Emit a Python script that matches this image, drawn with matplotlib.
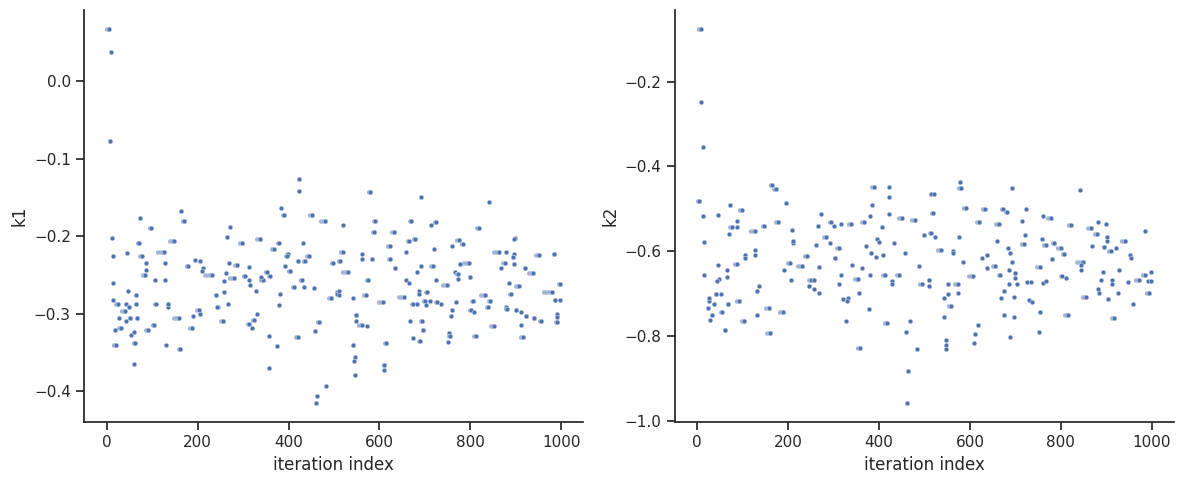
import numpy as np
import pandas as pd
import seaborn as sns
import matplotlib.pyplot as plt

# k1 chain: last iteration of each run, value, run length
k1_end = [5, 8, 9, 12, 13, 14, 15, 20, 18, 24, 27, 31, 40, 42, 43, 45, 46, 49, 53, 52,
          60, 62, 59, 64, 65, 67, 70, 73, 77, 86, 87, 85, 91, 98, 106, 103, 108, 126, 128, 129,
          131, 134, 135, 147, 158, 163, 171, 162, 178, 188, 190, 194, 204, 205, 206, 212, 210, 231, 240, 244,
          423, 423, 383, 390, 452, 481, 271, 264, 298, 338, 378, 367, 431, 398, 396, 444, 421, 436, 497, 512,
          269, 287, 314, 392, 404, 262, 280, 304, 312, 344, 353, 359, 340, 429, 258, 316, 413, 434, 457, 328,
          381, 258, 241, 507, 507, 494, 379, 267, 242, 330, 325, 256, 468, 312, 320, 459, 356, 420, 375, 358,
          483, 463, 460,
          580, 691, 520, 591, 670, 724, 713, 589, 633, 664, 679, 774, 623, 759, 719, 658, 519, 561, 561, 583,
          624, 513, 635, 691, 717, 682, 530, 766, 773, 773, 777, 574, 658, 664, 724, 749, 511, 510, 571, 541,
          655, 686, 687, 705, 607, 673, 683, 700, 702, 711, 727, 735, 768, 759, 757, 549, 549, 561, 572, 667,
          694, 696, 754, 755, 673, 689, 750, 615, 542, 546, 545, 611, 610, 547,
          840, 818, 776, 783, 898, 897, 862, 879, 896, 894, 950, 985, 796, 778, 877, 895, 867, 921, 937, 800,
          886, 906, 998, 889, 833, 980, 844, 806, 987, 998, 839, 879, 880, 801, 809, 901, 911, 923, 941, 956,
          990, 990, 991, 851, 911, 812, 916]
k1_val = [0.068, -0.0765, 0.038, -0.2017, -0.283, -0.225, -0.26, -0.341, -0.3217, -0.287, -0.306, -0.319, -0.297, -0.288, -0.31, -0.222, -0.271, -0.292, -0.328, -0.306,
          -0.324, -0.338, -0.3655, -0.2765, -0.287, -0.306, -0.2094, -0.176, -0.226, -0.234, -0.244, -0.2495, -0.3217, -0.189, -0.256, -0.315, -0.288, -0.2198, -0.234, -0.256,
          -0.34, -0.291, -0.288, -0.2056, -0.306, -0.167, -0.18, -0.346, -0.239, -0.318, -0.3035, -0.231, -0.296, -0.301, -0.2326, -0.2416, -0.245, -0.2495, -0.2765, -0.292,
          -0.1256, -0.141, -0.164, -0.172, -0.172, -0.18, -0.1875, -0.2004, -0.2094, -0.203, -0.2094, -0.217, -0.2094, -0.2236, -0.226, -0.226, -0.2314, -0.2326, -0.234, -0.2326,
          -0.2352, -0.2378, -0.2404, -0.239, -0.2455, -0.248, -0.2545, -0.252, -0.256, -0.257, -0.2468, -0.252, -0.253, -0.257, -0.2584, -0.2636, -0.265, -0.266, -0.2675, -0.2714,
          -0.2752, -0.2727, -0.2765, -0.272, -0.2752, -0.2804, -0.2894, -0.288, -0.292, -0.301, -0.3088, -0.31, -0.3114, -0.3139, -0.318, -0.323, -0.329, -0.3307, -0.342, -0.3707,
          -0.394, -0.4068, -0.416,
          -0.1423, -0.1488, -0.186, -0.18, -0.18, -0.181, -0.186, -0.194, -0.194, -0.2056, -0.2036, -0.2046, -0.212, -0.212, -0.2159, -0.2198, -0.221, -0.2224, -0.23, -0.229,
          -0.23, -0.2326, -0.2417, -0.239, -0.239, -0.2468, -0.2468, -0.246, -0.2494, -0.2558, -0.2365, -0.257, -0.257, -0.261, -0.257, -0.2636, -0.2714, -0.2765, -0.2765, -0.2804,
          -0.278, -0.2714, -0.275, -0.2727, -0.2855, -0.287, -0.288, -0.2842, -0.2894, -0.2842, -0.2855, -0.287, -0.2855, -0.2959, -0.3036, -0.3023, -0.309, -0.3152, -0.3165, -0.31,
          -0.309, -0.3217, -0.3256, -0.3294, -0.332, -0.3359, -0.3372, -0.3385, -0.341, -0.3565, -0.3617, -0.3668, -0.373, -0.3797,
          -0.1552, -0.19, -0.2043, -0.2107, -0.2017, -0.204, -0.221, -0.221, -0.2236, -0.2275, -0.2249, -0.2224, -0.2352, -0.2365, -0.234, -0.2365, -0.2417, -0.2417, -0.248, -0.253,
          -0.261, -0.2649, -0.2623, -0.275, -0.2765, -0.2727, -0.2842, -0.2842, -0.283, -0.283, -0.292, -0.291, -0.294, -0.2959, -0.298, -0.296, -0.298, -0.3036, -0.306, -0.309,
          -0.301, -0.305, -0.3114, -0.3165, -0.315, -0.329, -0.3307]
k1_run = [6, 2, 1, 1, 1, 1, 1, 5, 1, 4, 1, 4, 8, 1, 1, 1, 1, 2, 1, 2,
          1, 4, 1, 1, 1, 2, 3, 1, 4, 1, 1, 7, 5, 4, 1, 3, 3, 15, 1, 1,
          1, 1, 2, 8, 10, 1, 5, 3, 3, 6, 1, 1, 6, 1, 1, 1, 1, 15, 1, 1,
          1, 1, 1, 4, 6, 10, 1, 1, 6, 8, 2, 4, 1, 2, 2, 4, 2, 4, 3, 3,
          1, 5, 1, 1, 4, 1, 10, 3, 1, 6, 4, 2, 1, 3, 1, 1, 5, 1, 1, 1,
          1, 1, 1, 1, 2, 5, 1, 1, 1, 1, 5, 5, 5, 2, 1, 1, 1, 4, 1, 1,
          1, 1, 1,
          5, 1, 1, 3, 3, 3, 1, 5, 6, 3, 4, 5, 6, 1, 1, 1, 5, 1, 1, 1,
          3, 1, 2, 1, 4, 1, 12, 1, 4, 1, 1, 2, 1, 1, 1, 10, 1, 1, 5, 1,
          12, 1, 1, 3, 10, 2, 1, 3, 1, 1, 3, 1, 1, 1, 1, 2, 1, 8, 1, 1,
          3, 2, 2, 2, 1, 2, 1, 3, 2, 1, 1, 2, 1, 1,
          1, 4, 2, 3, 1, 1, 10, 1, 1, 2, 6, 3, 10, 1, 6, 1, 1, 2, 8, 2,
          1, 6, 3, 2, 10, 20, 3, 3, 2, 1, 3, 1, 2, 2, 1, 2, 1, 2, 3, 3,
          1, 1, 3, 6, 1, 4, 6]

# k2 chain
k2_end = [8, 9, 12, 4, 12, 15, 14, 45, 73, 98, 87, 87, 77, 70, 127, 148, 164, 173, 195, 178,
          208, 210, 210, 128, 128, 106, 106, 45, 87, 65, 65, 49, 43, 136, 131, 206, 192, 204, 231, 241,
          245, 251, 53, 42, 26, 26, 37, 23, 68, 92, 33, 28, 54, 131, 159, 189, 103, 62, 161,
          390, 423, 423, 384, 380, 423, 272, 265, 294, 300, 316, 339, 368, 406, 450, 479, 515, 516, 513, 498,
          284, 292, 262, 313, 372, 395, 399, 432, 457, 382, 393, 408, 304, 269, 340, 362, 488, 317, 380, 413,
          444, 258, 353, 429, 429, 509, 495, 511, 245, 258, 269, 313, 331, 329, 321, 356, 377, 328, 418, 469,
          460, 358, 484, 464, 461,
          578, 580, 692, 522, 518, 591, 633, 672, 681, 723, 714, 760, 777, 621, 663, 514, 524, 575, 659, 721,
          719, 759, 767, 536, 562, 562, 683, 688, 637, 626, 692, 584, 656, 638, 755, 780, 686, 700, 700, 700,
          666, 606, 510, 510, 551, 573, 685, 703, 725, 734, 760, 768, 551, 573, 543, 674, 668, 696, 729, 736,
          558, 543, 755, 675, 698, 617, 612, 610, 752, 689, 547, 547, 547,
          842, 778, 822, 867, 882, 899, 880, 986, 902, 901, 941, 786, 800, 808, 869, 896, 910, 921, 951, 954,
          780, 849, 844, 844, 892, 928, 999, 802, 811, 985, 972, 888, 913, 913, 947, 992, 999, 882, 885, 903,
          926, 994, 855, 958, 815, 918]
k2_val = [-0.076, -0.2478, -0.3536, -0.4807, -0.516, -0.577, -0.655, -0.5136, -0.49, -0.502, -0.528, -0.542, -0.5415, -0.558, -0.551, -0.54, -0.4447, -0.4525, -0.4855, -0.53,
          -0.549, -0.5795, -0.5745, -0.596, -0.608, -0.608, -0.616, -0.631, -0.6296, -0.643, -0.6595, -0.664, -0.669, -0.681, -0.6925, -0.6666, -0.643, -0.6266, -0.6336, -0.61,
          -0.681, -0.6666, -0.6995, -0.6995, -0.716, -0.71, -0.723, -0.7325, -0.723, -0.716, -0.751, -0.7607, -0.744, -0.751, -0.7325, -0.744, -0.765, -0.7843, -0.7913,
          -0.4478, -0.4478, -0.4713, -0.49, -0.516, -0.511, -0.511, -0.5395, -0.53, -0.5395, -0.535, -0.536, -0.53, -0.542, -0.521, -0.525, -0.465, -0.51, -0.556, -0.5617,
          -0.5654, -0.5795, -0.584, -0.591, -0.5866, -0.57, -0.577, -0.5795, -0.603, -0.604, -0.6125, -0.608, -0.615, -0.638, -0.631, -0.64, -0.634, -0.655, -0.656, -0.655,
          -0.655, -0.6666, -0.664, -0.669, -0.676, -0.667, -0.676, -0.681, -0.681, -0.6878, -0.697, -0.676, -0.709, -0.718, -0.712, -0.697, -0.735, -0.763, -0.768, -0.763,
          -0.789, -0.8266, -0.829, -0.8807, -0.958,
          -0.436, -0.45, -0.45, -0.464, -0.509, -0.497, -0.5, -0.4995, -0.5066, -0.5, -0.528, -0.516, -0.521, -0.53, -0.535, -0.556, -0.5654, -0.567, -0.5745, -0.561,
          -0.582, -0.57, -0.584, -0.596, -0.599, -0.604, -0.5915, -0.604, -0.608, -0.616, -0.6243, -0.626, -0.634, -0.64, -0.638, -0.618, -0.643, -0.65, -0.652, -0.662,
          -0.655, -0.659, -0.667, -0.681, -0.676, -0.676, -0.676, -0.676, -0.672, -0.672, -0.674, -0.67, -0.6995, -0.697, -0.709, -0.6925, -0.709, -0.707, -0.7136, -0.72,
          -0.7278, -0.7536, -0.742, -0.751, -0.7536, -0.7725, -0.7936, -0.815, -0.789, -0.8007, -0.81, -0.8195, -0.831,
          -0.4548, -0.521, -0.537, -0.544, -0.53, -0.535, -0.558, -0.553, -0.5654, -0.5745, -0.5745, -0.5795, -0.591, -0.6054, -0.587, -0.59, -0.5985, -0.591, -0.608, -0.616,
          -0.618, -0.626, -0.631, -0.645, -0.648, -0.643, -0.648, -0.659, -0.662, -0.656, -0.6666, -0.667, -0.667, -0.676, -0.672, -0.67, -0.67, -0.6878, -0.697, -0.7113,
          -0.697, -0.697, -0.7066, -0.723, -0.749, -0.756]
k2_run = [6, 1, 1, 4, 1, 1, 1, 1, 1, 5, 1, 1, 5, 1, 10, 5, 3, 5, 1, 5,
          1, 1, 1, 1, 1, 1, 1, 1, 5, 1, 1, 1, 1, 1, 1, 1, 1, 5, 10, 5,
          1, 5, 1, 2, 1, 1, 1, 1, 2, 6, 1, 1, 2, 1, 8, 8, 6, 2, 8,
          6, 1, 1, 1, 1, 1, 1, 1, 2, 1, 1, 6, 6, 1, 6, 8, 1, 1, 1, 1,
          6, 1, 1, 6, 1, 1, 1, 1, 1, 1, 1, 1, 2, 1, 1, 1, 1, 1, 1, 5,
          5, 2, 6, 1, 1, 1, 6, 1, 1, 1, 1, 1, 1, 1, 1, 1, 1, 1, 6, 1,
          1, 6, 1, 1, 1,
          1, 5, 1, 1, 1, 6, 6, 2, 2, 1, 1, 1, 6, 6, 6, 1, 1, 1, 1, 1,
          6, 1, 6, 8, 1, 1, 1, 1, 1, 1, 1, 1, 6, 1, 8, 1, 1, 1, 1, 1,
          2, 8, 1, 1, 1, 6, 1, 1, 1, 1, 1, 1, 1, 1, 1, 1, 1, 1, 1, 1,
          6, 1, 1, 1, 1, 1, 1, 1, 1, 1, 1, 1, 1,
          1, 1, 6, 8, 1, 1, 6, 1, 1, 1, 8, 5, 8, 5, 1, 2, 6, 1, 1, 1,
          1, 14, 1, 1, 1, 1, 1, 2, 1, 6, 8, 1, 1, 1, 1, 1, 1, 1, 1, 1,
          1, 6, 8, 1, 6, 6]


def expand(ends, vals, runs):
    xs, ys = [], []
    for e, v, r in zip(ends, vals, runs):
        for i in range(e - r + 1, e + 1):
            xs.append(i)
            ys.append(v)
    return pd.DataFrame({"iteration index": xs, "value": ys})


sns.set_theme(style="ticks")

fig, axes = plt.subplots(1, 2, figsize=(11.83, 4.84), dpi=100)
panels = [("k1", expand(k1_end, k1_val, k1_run)), ("k2", expand(k2_end, k2_val, k2_run))]
for ax, (name, df) in zip(axes, panels):
    sns.scatterplot(data=df, x="iteration index", y="value", s=12, ax=ax)
    ax.set_ylabel(name)
    sns.despine(ax=ax)

axes[0].set_yticks([0.0, -0.1, -0.2, -0.3, -0.4])
axes[1].set_yticks([-0.2, -0.4, -0.6, -0.8, -1.0])
axes[0].set_xticks([0, 200, 400, 600, 800, 1000])
axes[1].set_xticks([0, 200, 400, 600, 800, 1000])

plt.subplots_adjust(left=0.071, right=0.9924, top=0.979, bottom=0.128, wspace=0.184)
plt.savefig("out.png")
